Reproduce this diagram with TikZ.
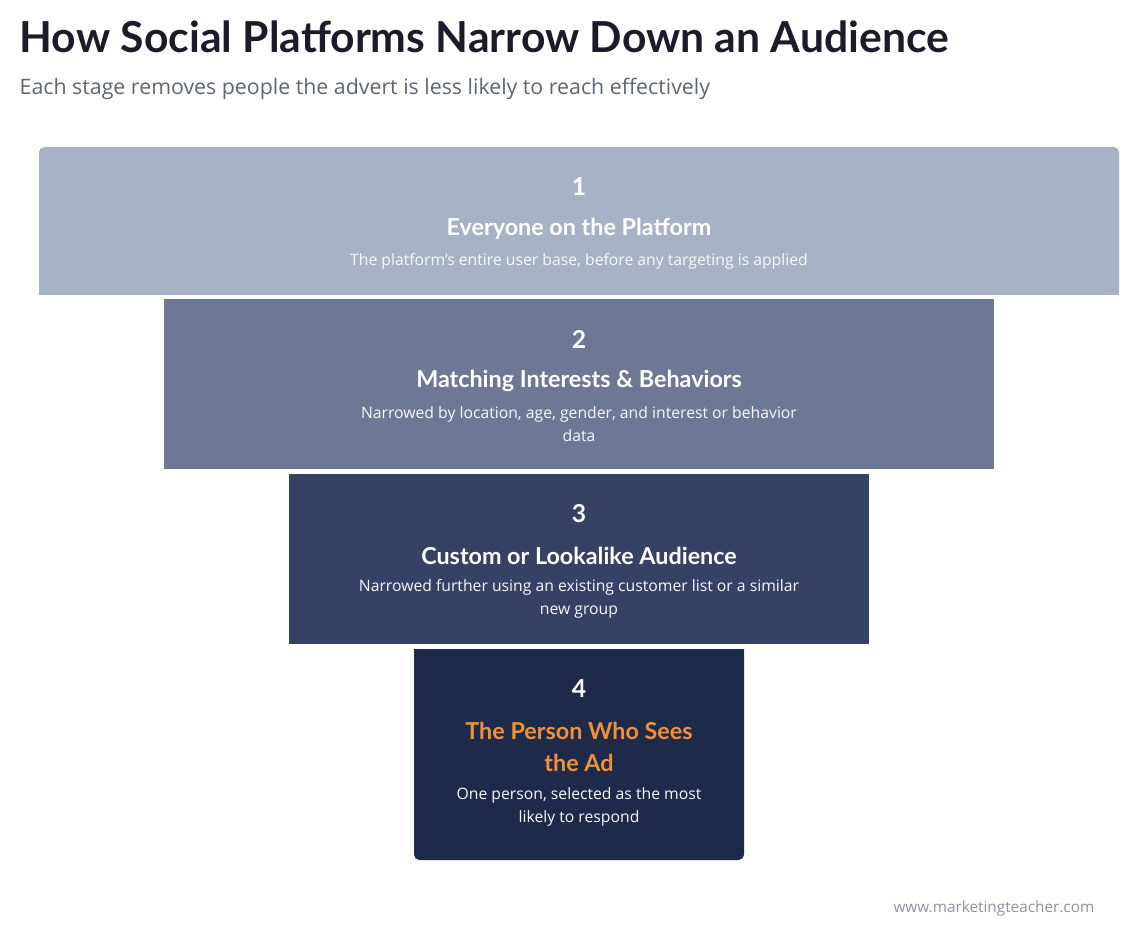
\documentclass[tikz,border=0pt]{standalone}
\usepackage{fontspec}
\setmainfont{Open Sans}
\newfontfamily\headfont{Lato}
\usetikzlibrary{positioning}
\definecolor{tierA}{HTML}{A9B1C6}
\definecolor{tierB}{HTML}{6E7895}
\definecolor{tierC}{HTML}{364166}
\definecolor{tierD}{HTML}{1E2A4A}
\definecolor{inkdark}{HTML}{1B1B2A}
\definecolor{inkgrey}{HTML}{5F6577}
\definecolor{accent}{HTML}{F0913A}
\tikzset{
  num/.style={text=white, font=\headfont\fontsize{18.5}{20}\selectfont\bfseries},
  head/.style={text=white, font=\headfont\fontsize{17.5}{24}\selectfont\bfseries, align=center},
  desc/.style={text=white!92!tierA, font=\fontsize{11.8}{17}\selectfont, align=center}
}
\begin{document}
\begin{tikzpicture}[x=0.75pt,y=-0.75pt]
  \useasboundingbox[fill=white] (0,0) rectangle (1138,937);
  \node[anchor=west, text=inkdark, font=\headfont\fontsize{32}{36}\selectfont\bfseries] (title) at (15,37) {How Social Platforms Narrow Down an Audience};
  \node[anchor=west, text=inkgrey, font=\fontsize{16}{19}\selectfont] (subtitle) at (15,89) {Each stage removes people the advert is less likely to reach effectively};

  % tiers of the funnel
  \fill[tierA] (39,295) [rounded corners=4] -- (39,147) -- (1119,147) [sharp corners] -- (1119,295) -- cycle;
  \fill[tierB] (164,299) rectangle (994,469);
  \fill[tierC] (289,474) rectangle (869,644);
  \fill[tierD] (414,649) -- (744,649) [rounded corners=4] -- (744,860) -- (414,860) [sharp corners] -- cycle;

  \node[num] (n1) at (579,187) {1};
  \node[head] (h1) at (579,229) {Everyone on the Platform};
  \node[desc] (d1) at (579,261) {The platform's entire user base, before any targeting is applied};

  \node[num] (n2) at (579,339) {2};
  \node[head] (h2) at (579,381) {Matching Interests \& Behaviors};
  \node[desc] (d2) at (579,424) {Narrowed by location, age, gender, and interest or behavior\\data};

  \node[num] (n3) at (579,514) {3};
  \node[head] (h3) at (579,556) {Custom or Lookalike Audience};
  \node[desc] (d3) at (579,599) {Narrowed further using an existing customer list or a similar\\new group};

  \node[num] (n4) at (579,689) {4};
  \node[head, text=accent] (h4) at (579,747) {The Person Who Sees\\the Ad};
  \node[desc] (d4) at (579,807) {One person, selected as the most\\likely to respond};

  \node[anchor=east, text=inkgrey!70, font=\fontsize{11.5}{14}\selectfont] (site) at (1099,909) {www.marketingteacher.com};
\end{tikzpicture}
\end{document}
